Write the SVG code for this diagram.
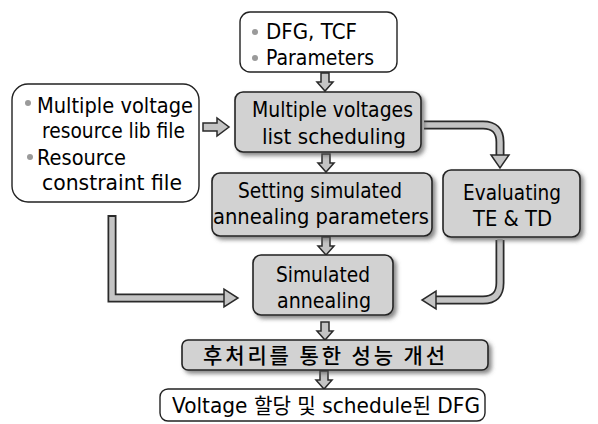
<svg xmlns="http://www.w3.org/2000/svg" width="598" height="424" viewBox="0 0 598 424">
<defs>
<style>
.t{font-family:"DejaVu Sans","Noto Sans CJK KR",sans-serif;font-size:21px;fill:#000}
.k{font-family:"Noto Sans CJK KR","DejaVu Sans",sans-serif;font-size:21px;font-weight:500;fill:#000}
.wb{fill:#fff;stroke:#222;stroke-width:1.4}
.gb{fill:#d2d2d2;stroke:#222;stroke-width:1.6;filter:url(#sh)}
.bul{fill:#9a9a9a}
.ao{fill:none;stroke:#2a2a2a;stroke-width:9}
.ai{fill:none;stroke:#c4c4c4;stroke-width:5.5}
.ah{fill:#c4c4c4;stroke:#2a2a2a;stroke-width:1.5;stroke-linejoin:miter}
</style>
<filter id="sh" x="-10%" y="-10%" width="130%" height="140%">
<feDropShadow dx="3" dy="3" stdDeviation="2" flood-color="#555" flood-opacity="0.7"/>
</filter>
<polygon id="dn" class="ah" points="-4,-18 4,-18 4,-9 8,-9 0,0 -8,-9 -4,-9"/>
</defs>
<rect width="598" height="424" fill="#fff"/>

<g id="connectors">
<use href="#dn" x="325" y="91"/>
<use href="#dn" x="326" y="172"/>
<use href="#dn" x="326" y="255"/>
<use href="#dn" x="325" y="340"/>
<use href="#dn" x="324" y="389"/>
<polygon class="ah" points="203,123 217,123 217,118 229,127 217,136 217,131 203,131" fill="#999"/>
<path class="ao" d="M424 125 H483 Q500 125 500 142 V156"/>
<path class="ai" d="M424 125 H483 Q500 125 500 142 V157"/>
<polygon class="ah" points="491,155 509,155 500,168"/>
<path class="ao" d="M500 240 V283 Q500 300 483 300 H435"/>
<path class="ai" d="M500 239 V283 Q500 300 483 300 H434"/>
<polygon class="ah" points="436,291 436,309 422,300"/>
<path class="ao" d="M112 215 V298 H225" stroke-linejoin="miter"/>
<path class="ai" d="M112 217 V298 H226" stroke-linejoin="miter"/>
<polygon class="ah" points="224,289 224,307 238,298"/>
</g>

<g id="inputs">
<rect class="wb" x="240" y="12" width="157" height="60" rx="10"/>
<circle class="bul" cx="255" cy="32" r="3"/>
<circle class="bul" cx="255" cy="58" r="3"/>
<text class="t" x="266" y="39" textLength="91" lengthAdjust="spacingAndGlyphs">DFG, TCF</text>
<text class="t" x="266" y="65" textLength="108" lengthAdjust="spacingAndGlyphs">Parameters</text>
</g>

<g id="resource">
<rect class="wb" x="12" y="84" width="187" height="118" rx="16"/>
<circle class="bul" cx="28" cy="103" r="3"/>
<circle class="bul" cx="30" cy="157" r="3"/>
<text class="t" x="37" y="113" textLength="156" lengthAdjust="spacingAndGlyphs">Multiple voltage</text>
<text class="t" x="42" y="138" textLength="143" lengthAdjust="spacingAndGlyphs">resource lib file</text>
<text class="t" x="37" y="165" textLength="89" lengthAdjust="spacingAndGlyphs">Resource</text>
<text class="t" x="42" y="190" textLength="140" lengthAdjust="spacingAndGlyphs">constraint file</text>
</g>

<g id="mvls">
<rect class="gb" x="235" y="92" width="186" height="60" rx="8"/>
<text class="t" x="252" y="117" textLength="161" lengthAdjust="spacingAndGlyphs">Multiple voltages</text>
<text class="t" x="262" y="144" textLength="144" lengthAdjust="spacingAndGlyphs">list scheduling</text>
</g>

<g id="setting">
<rect class="gb" x="212" y="173" width="220" height="63" rx="8"/>
<text class="t" x="238" y="198" textLength="164" lengthAdjust="spacingAndGlyphs">Setting simulated</text>
<text class="t" x="213" y="224" textLength="216" lengthAdjust="spacingAndGlyphs">annealing parameters</text>
</g>

<g id="evaluating">
<rect class="gb" x="443" y="170" width="137" height="67" rx="8"/>
<text class="t" x="463" y="200" textLength="98" lengthAdjust="spacingAndGlyphs">Evaluating</text>
<text class="t" x="473" y="226" textLength="79" lengthAdjust="spacingAndGlyphs">TE &amp; TD</text>
</g>

<g id="sa">
<rect class="gb" x="253" y="255" width="140" height="60" rx="8"/>
<text class="t" x="276" y="282" textLength="94" lengthAdjust="spacingAndGlyphs">Simulated</text>
<text class="t" x="277" y="308" textLength="94" lengthAdjust="spacingAndGlyphs">annealing</text>
</g>

<g id="post">
<rect class="gb" x="182" y="340" width="306" height="30" rx="6"/>
<text class="k" x="203" y="363" textLength="242" lengthAdjust="spacing">후처리를 통한 성능 개선</text>
</g>

<g id="output">
<rect class="wb" x="160" y="389" width="325" height="32" rx="8"/>
<text class="t" x="172" y="413" textLength="308" lengthAdjust="spacingAndGlyphs">Voltage 할당 및 schedule된 DFG</text>
</g>
</svg>
